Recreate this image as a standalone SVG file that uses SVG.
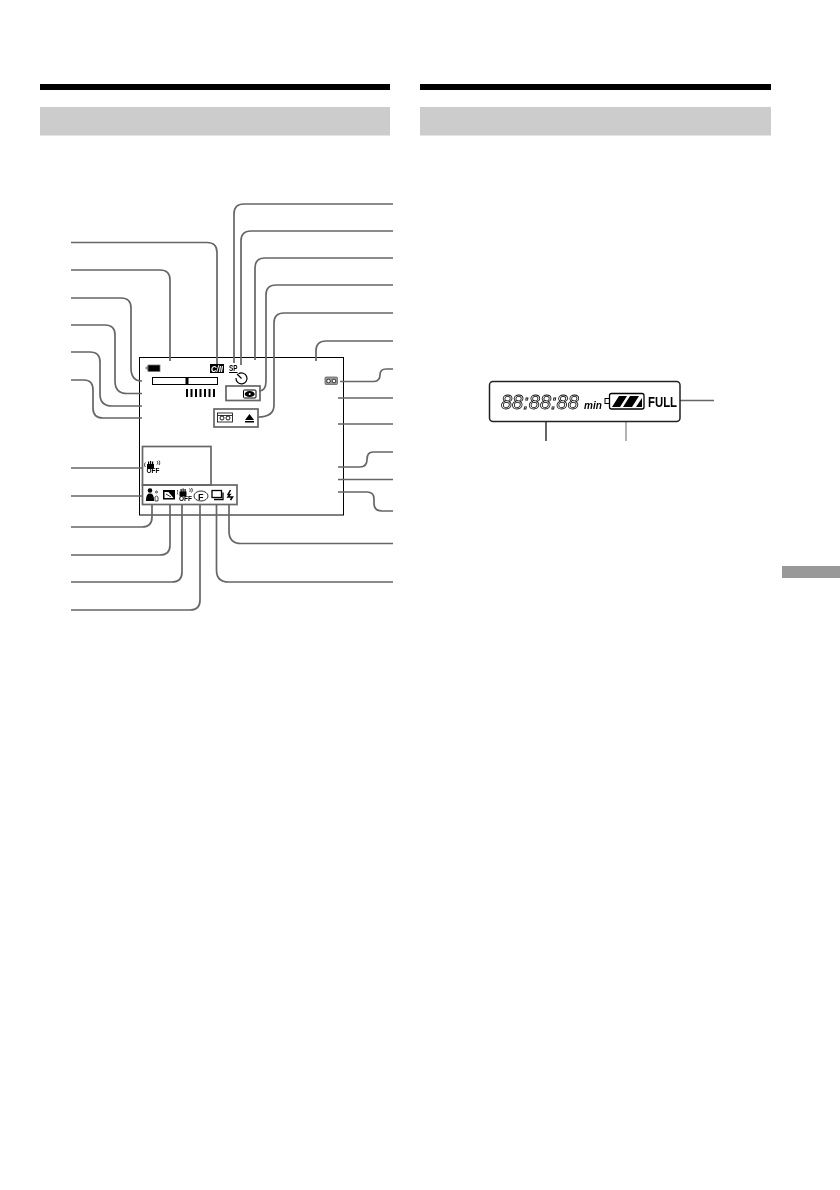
<svg xmlns="http://www.w3.org/2000/svg" xmlns:xlink="http://www.w3.org/1999/xlink" width="840" height="1190" viewBox="0 0 840 1190">
<style>
.lead{fill:none;stroke:#666;stroke-width:1.7}
.gbox{fill:none;stroke:#666;stroke-width:1.700}
.k{fill:none;stroke:#000;stroke-width:1}
.sans{font-family:"Liberation Sans",Arial,sans-serif}
.off{font-family:"Liberation Sans",Arial,sans-serif;font-size:7px;font-weight:bold;fill:#000}
.gray{filter:url(#gr)}
</style>
<defs>
<filter id="gr" x="0" y="0" width="1" height="1" filterUnits="objectBoundingBox" color-interpolation-filters="sRGB"><feOffset dx="0" dy="0"/></filter>
<g id="hand">
<path d="M2.500 8v-4.500h1v-2.500h1.200v2.500h.8v-3h1.200v3h.8v-2.500h1.200v2.500h.8v4l-1 1h-6z" fill="#000"/>
<path d="M0.800 2c-1 1.500-1 3 0 4.500M12.500 0.500c1 1 1 2.500 0 3.500M14.500 0c1 1.500 1 3 0 4.500" fill="none" stroke="#000" stroke-width="0.800"/>
<text x="2" y="12.800" class="off" textLength="13" lengthAdjust="spacingAndGlyphs">OFF</text>
</g>
</defs>
<rect width="840" height="1190" fill="#fff"/>
<g id="page">
<rect x="40" y="84" width="350" height="6" fill="#000"/>
<rect x="40" y="107" width="350" height="28.500" fill="#ccc"/>
<rect x="420" y="84" width="351" height="6" fill="#000"/>
<rect x="420" y="107" width="351" height="28.500" fill="#ccc"/>
<rect x="782" y="566" width="58" height="12" fill="#999"/>
</g>
<g id="screen"><rect x="139.500" y="357.500" width="204" height="157.500" class="k"/></g>
<g id="connectors">
<path class="lead" d="M71 242.500H207q10 0 10 10V364"/>
<path class="lead" d="M71 270H160q10 0 10 10V361"/>
<path class="lead" d="M71 298H121q10 0 10 10V368q0 13 11 13"/>
<path class="lead" d="M71 325H105q10 0 10 10V381q0 12.500 12 12.500H142"/>
<path class="lead" d="M71 352H90q10 0 10 10V394q0 12 12 12H142"/>
<path class="lead" d="M71 380H84q9 0 9 10V408q0 10 10 10H142"/>
<path class="lead" d="M393 204H244q-10 0-10 10V363"/>
<path class="lead" d="M393 231H251q-10 0-10 10V365"/>
<path class="lead" d="M393 258H265q-10 0-10 10V360"/>
<path class="lead" d="M393 285H276q-10 0-10 10V381q0 10-7 10"/>
<path class="lead" d="M393 313H284q-10 0-10 10V405q0 12-16 12"/>
<path class="lead" d="M393 341H326q-10 0-10 10V361"/>
<path class="lead" d="M393 369H386q-6 0-6 6t-6 6.500H340"/>
<path class="lead" d="M393 398H338"/>
<path class="lead" d="M393 424H338"/>
<path class="lead" d="M393 452H373q-6 0-6 7.500t-7 7.500H338"/>
<path class="lead" d="M393 479.500H338"/>
<path class="lead" d="M338 492H367q7 0 7 7v4q0 8 8 8H393"/>
<path class="lead" d="M229 505V531q0 12.500 12 12.500H393"/>
<path class="lead" d="M216.500 505V570q0 12 12 12H393"/>
<path class="lead" d="M71 468H143"/>
<path class="lead" d="M71 496H143"/>
<path class="lead" d="M71 527H142q10 0 10-10V505"/>
<path class="lead" d="M71 555H160q10 0 10-10V505"/>
<path class="lead" d="M71 582H172q10 0 10-10V505"/>
<path class="lead" d="M71 610H190q10 0 10-10V505"/>
<path class="lead" d="M677 400.500H714"/>
<path class="lead" style="stroke-width:2" d="M546 416V441"/>
<path class="lead" style="stroke-width:1" d="M626 416V441"/>
</g>
<g id="battery-icon"><path d="M145 368l3-2.500v5z" fill="#888"/><rect x="148" y="365" width="12" height="6.500" fill="#000"/><rect x="148" y="365" width="12" height="6.500" fill="none" stroke="#777" stroke-width="0.800"/></g>
<g id="cassette-mode" class="gray"><rect x="210" y="364" width="14" height="9" fill="#000"/><text x="211" y="372" class="sans" font-size="9" font-weight="bold" font-style="italic" fill="#fff" textLength="12" lengthAdjust="spacingAndGlyphs">C/II</text></g>
<g id="sp"><text class="gray" x="229" y="371" font-family="Liberation Sans,sans-serif" font-size="9.500" font-weight="bold" fill="#000" textLength="8.500" lengthAdjust="spacingAndGlyphs">SP</text><path d="M229 372.500h8.500" stroke="#000"/></g>
<g id="timer"><path d="M238.500 373.800A5.500 5.500 0 1 1 236 378" fill="none" stroke="#000" stroke-width="1.200"/><path d="M237 374l4.500 4.500" stroke="#000" stroke-width="1.200"/></g>
<g id="level-bar"><rect x="152.500" y="377.500" width="65" height="7" class="k"/><rect x="185.500" y="378" width="3" height="6" fill="#000"/></g>
<g id="ticks" stroke="#000" stroke-width="2"><path d="M187 389v8M191.500 389v8M196 389v8M200.500 389v8M205 389v8M209.500 389v8M214 389v8"/></g>
<g id="focus-box"><rect x="226" y="386" width="34" height="14.500" class="gbox"/><rect x="243.500" y="390" width="12.500" height="8" rx="1" fill="#fff" stroke="#000"/><ellipse cx="249.700" cy="394" rx="5" ry="3" fill="#000"/><circle cx="249.700" cy="394" r="1" fill="#fff"/></g>
<g id="cassette-box"><rect x="214" y="409" width="44" height="18" class="gbox"/><rect x="217.500" y="413" width="15" height="9" fill="#fff" stroke="#000" stroke-width="0.800"/><path d="M218 415.500h14" stroke="#000" stroke-width="0.800"/><circle cx="222" cy="418" r="2" fill="none" stroke="#000" stroke-width="0.900"/><circle cx="228" cy="418" r="2" fill="none" stroke="#000" stroke-width="0.900"/><path d="M245 420l4.500-6 4.500 6z" fill="#000"/><rect x="245" y="421" width="9" height="1.500" fill="#000"/></g>
<g id="tape-icon"><rect x="325" y="377" width="12.500" height="7.500" rx="1" fill="#999" stroke="#555" stroke-width="0.700"/><circle cx="328.500" cy="381" r="1.800" fill="#fff" stroke="#000" stroke-width="0.700"/><circle cx="334" cy="381" r="1.800" fill="#fff" stroke="#000" stroke-width="0.700"/></g>
<g id="stabilizer-box"><rect x="142.500" y="446.500" width="68.500" height="38.500" class="gbox"/><use class="gray" xlink:href="#hand" href="#hand" x="144.500" y="460.500"/></g>
<g id="icon-row"><rect x="142.500" y="485" width="94.500" height="19.500" class="gbox"/>
<g id="portrait"><circle cx="150" cy="490.500" r="2.300" fill="#000"/><path d="M146 501c0-5 1-7.500 4-7.500s4 2.500 4 7.500z" fill="#000"/><circle cx="156.500" cy="492" r="1" fill="none" stroke="#000" stroke-width="0.700"/><path d="M155 501v-4q1.500-2 3 0v4z" fill="none" stroke="#000" stroke-width="0.700"/></g>
<g id="backlight"><rect x="163" y="490" width="12" height="9.500" fill="#000"/><path d="M164.500 492h4l5 6h-9z" fill="#fff"/><path d="M166 494l5 3" stroke="#000" stroke-width="0.800"/></g>
<use class="gray" xlink:href="#hand" href="#hand" id="hand2" x="177" y="488"/>
<g id="fader"><ellipse cx="201" cy="496" rx="7" ry="5" fill="none" stroke="#000" stroke-width="0.800"/><text class="sans gray" x="198" y="500" font-size="9" font-weight="bold" fill="#000">F</text></g>
<g id="stack"><rect x="212" y="490.500" width="9.500" height="7" fill="#fff" stroke="#000" stroke-width="1.300"/><path d="M214 499.500h9v-7" fill="none" stroke="#000" stroke-width="1.300"/></g>
<g id="flash"><path d="M230.500 490l-2.500 4.500h2l-2 2.500h4.500l-2 3" fill="none" stroke="#000" stroke-width="1.500"/></g>
</g>
<g id="lcd">
<rect x="489.500" y="381.500" width="190.500" height="40" rx="3.500" fill="#fff" stroke="#222" stroke-width="1.500"/>
<text class="sans gray" x="501" y="409" font-size="20" font-style="italic" fill="#fff" stroke="#000" stroke-width="0.800">88:88:88</text>
<text class="sans gray" x="584" y="409" font-size="10" font-style="italic" font-weight="bold" fill="#000">min</text>
<rect x="605" y="398.500" width="4.500" height="5" fill="#fff" stroke="#000"/>
<rect x="609.500" y="393.500" width="34.500" height="15.500" rx="2" fill="#fff" stroke="#000" stroke-width="1.300"/>
<path d="M612 407l7-11h8l-7 11zM623 407l7-11h9l-7 11z" fill="#000"/><path d="M636 407l6-9v9z" fill="#000"/>
<text class="sans gray" x="648" y="407" font-size="14" font-weight="bold" fill="#000" textLength="29" lengthAdjust="spacingAndGlyphs">FULL</text>
</g>
</svg>
